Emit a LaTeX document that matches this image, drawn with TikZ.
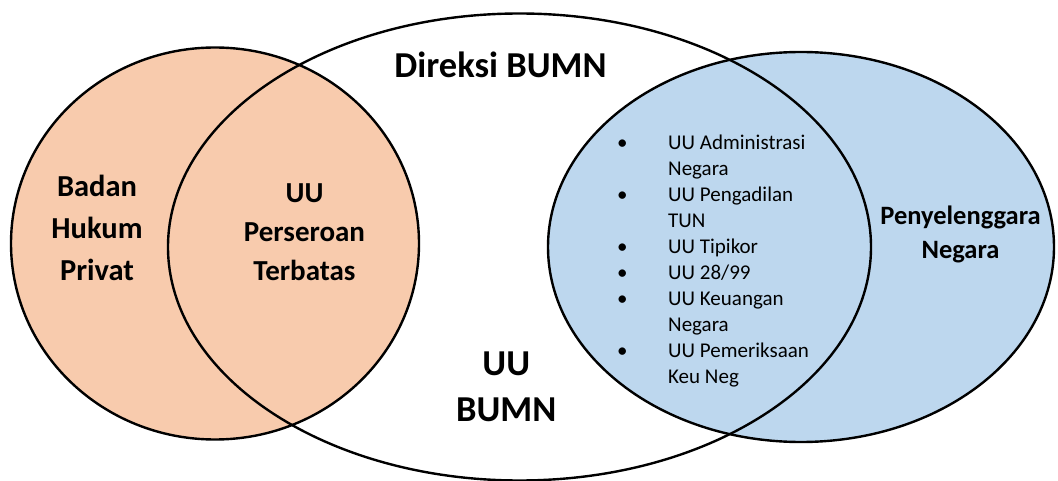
\documentclass[tikz,border=0pt]{standalone}
\usepackage{fontspec}
\setmainfont{Carlito}
\usepackage{xcolor}
\usetikzlibrary{shapes.geometric}
\definecolor{peach}{HTML}{F8CBAD}
\definecolor{paleblue}{HTML}{BDD7EE}

\begin{document}
\begin{tikzpicture}[x=1pt,y=-1pt]
    \tikzstyle{setbox}=[ellipse,draw=black,line width=2.4pt,inner sep=0pt]
    \tikzstyle{title}=[font=\fontsize{36.5}{46.7}\selectfont\bfseries,align=center,anchor=base]
    \tikzstyle{label}=[font=\fontsize{30.5}{41.7}\selectfont\bfseries,align=center,anchor=base]
    \tikzstyle{label2}=[font=\fontsize{29}{38.7}\selectfont\bfseries,align=center,anchor=base]
    \tikzstyle{label3}=[font=\fontsize{26.5}{34}\selectfont\bfseries,align=center,anchor=base]
    \tikzstyle{lawlist}=[font=\fontsize{21}{26}\selectfont,inner sep=0pt,anchor=base west]

    \useasboundingbox (0,0) rectangle (1058,481);

    \node[setbox,fill=peach,minimum width=408pt,minimum height=392pt] (privat) at (215,243.5) {};
    \node[setbox,fill=paleblue,minimum width=506pt,minimum height=390pt] (negara) at (801,247) {};
    \node[setbox,minimum width=703pt,minimum height=467pt] (bumn) at (519.5,247) {};

    \node[title] (direksi) at (500.5,77.3) {Direksi BUMN};
    \node[title] (uubumn) at (506.3,421.7) {UU\\BUMN};

    \node[label] (badan) at (97,280) {Badan\\Hukum\\Privat};
    \node[label2] (uupt) at (304.5,280) {UU\\Perseroan\\Terbatas};
    \node[label3] (penyelenggara) at (960.5,258.3) {Penyelenggara\\Negara};

    \node[lawlist] (uulist) at (617,149.3) {%
        \begin{tabular}[t]{@{}p{51pt}@{}l@{}}
        \textbullet & UU Administrasi\\
                    & Negara\\
        \textbullet & UU Pengadilan\\
                    & TUN\\
        \textbullet & UU Tipikor\\
        \textbullet & UU 28/99\\
        \textbullet & UU Keuangan\\
                    & Negara\\
        \textbullet & UU Pemeriksaan\\
                    & Keu Neg
        \end{tabular}};
\end{tikzpicture}
\end{document}
